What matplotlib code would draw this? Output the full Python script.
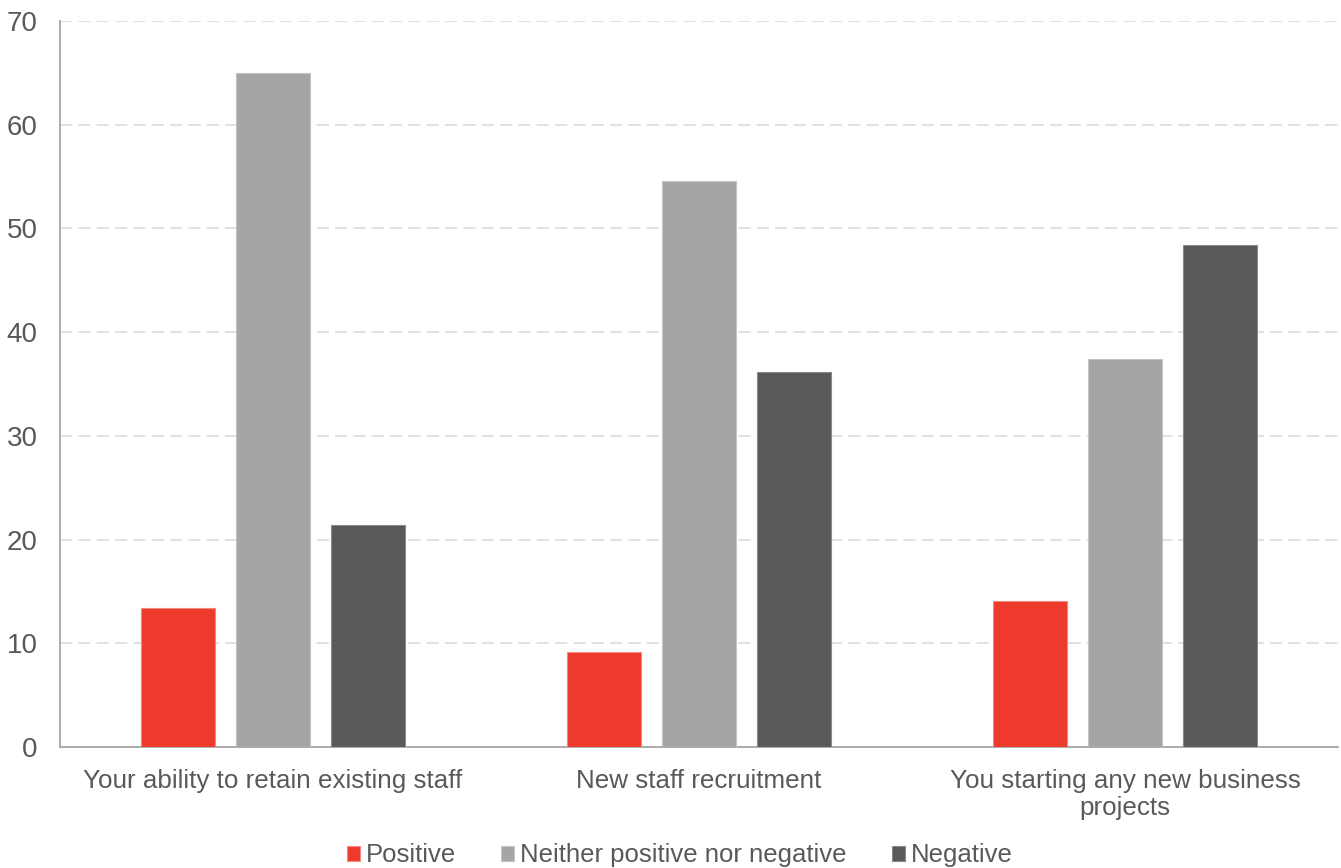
import numpy as np
import matplotlib.pyplot as plt

plt.rcParams['font.family'] = ['Liberation Sans', 'DejaVu Sans']

# survey responses (%)
categories = ['Your ability to retain existing staff', 'New staff recruitment',
              'You starting any new business\nprojects']
series = ['Positive', 'Neither positive nor negative', 'Negative']
positive = [13.4, 9.2, 14.1]
neither = [65.0, 54.6, 37.4]
negative = [21.4, 36.2, 48.4]
colors = ['#EE3A2C', '#A5A5A5', '#595959']
edge_colors = ['#F28880', '#C4C4C4', '#8A8A8A']
yticks = [0, 10, 20, 30, 40, 50, 60, 70]

text_col = '#595959'

fig = plt.figure(figsize=(13.41, 8.68), dpi=100)
ax = fig.add_axes([0.0447, 0.1394, 0.9531, 0.8364])

x = np.arange(len(categories))
width = 0.174
step = 0.223
for i, (vals, name) in enumerate(zip([positive, neither, negative], series)):
    ax.bar(x + (i - 1) * step, vals, width, color=colors[i], label=name,
           edgecolor=edge_colors[i], linewidth=0.8, zorder=3)

ax.set_xlim(-0.5, len(categories) - 0.5)
ax.set_ylim(0, 70)
ax.set_yticks(yticks)
ax.set_xticks(x)
ax.set_xticklabels(categories, fontsize=18.7, color=text_col, linespacing=1.15)
ax.tick_params(axis='y', length=0, pad=16, labelsize=20, labelcolor=text_col)
ax.tick_params(axis='x', length=0, pad=16)

ax.yaxis.grid(True, color='#D9D9D9', linewidth=1.1, linestyle=(0, (8, 4)), zorder=0)
ax.set_axisbelow(True)
for side in ['top', 'right']:
    ax.spines[side].set_visible(False)
for side in ['left', 'bottom']:
    ax.spines[side].set_color('#A6A6A6')
    ax.spines[side].set_linewidth(1.3)

fig.legend(loc='lower center', bbox_to_anchor=(0.507, -0.026), ncol=3, frameon=False,
           fontsize=18.5, labelcolor=text_col, handlelength=0.5, handleheight=0.5,
           handletextpad=0.25, columnspacing=1.75)

fig.savefig('out.png', dpi=100)
